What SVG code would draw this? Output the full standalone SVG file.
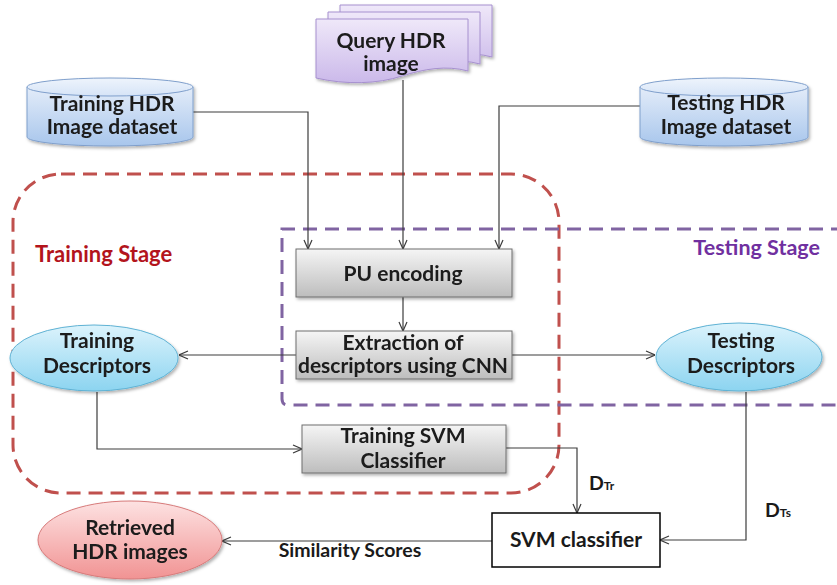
<svg xmlns="http://www.w3.org/2000/svg" width="837" height="585" viewBox="0 0 837 585">
<defs>
<style>
.t{font-family:Lato,"Open Sans","Liberation Sans",sans-serif;font-weight:bold;font-size:21px;fill:#1a1a1a;text-anchor:middle}
.lbl{font-family:Lato,"Open Sans","Liberation Sans",sans-serif;font-weight:bold;font-size:19.5px;fill:#1a1a1a}
.sub{font-size:12px}
.conn{fill:none;stroke:#3c3c3c;stroke-width:1.2}
.arr{marker-end:url(#arrow)}
.gbox{fill:url(#gGray);stroke:#6e6e6e;stroke-width:1}
.redStage{fill:none;stroke:#c0504d;stroke-width:3;stroke-dasharray:14 8}
.purStage{fill:none;stroke:#8064a2;stroke-width:3;stroke-dasharray:14 8}
.sh{filter:url(#shadow)}
</style>
<linearGradient id="gBlue" x1="0" y1="0" x2="0" y2="1"><stop offset="0" stop-color="#e3ecf9"/><stop offset="1" stop-color="#a8c6ec"/></linearGradient>
<linearGradient id="gBlueTop" x1="0" y1="0" x2="0" y2="1"><stop offset="0" stop-color="#eef4fc"/><stop offset="1" stop-color="#d6e4f7"/></linearGradient>
<linearGradient id="gLav" x1="0" y1="0" x2="0" y2="1"><stop offset="0" stop-color="#efe8f9"/><stop offset="1" stop-color="#cbb9ea"/></linearGradient>
<linearGradient id="gGray" x1="0" y1="0" x2="0" y2="1"><stop offset="0" stop-color="#f5f5f5"/><stop offset="1" stop-color="#bdbdbd"/></linearGradient>
<linearGradient id="gCyan" x1="0" y1="0" x2="0" y2="1"><stop offset="0" stop-color="#dcf3fc"/><stop offset="1" stop-color="#8cd4f0"/></linearGradient>
<linearGradient id="gPink" x1="0" y1="0" x2="0" y2="1"><stop offset="0" stop-color="#fde2e2"/><stop offset="1" stop-color="#f19393"/></linearGradient>
<filter id="shadow" x="-10%" y="-10%" width="125%" height="130%"><feDropShadow dx="1.5" dy="2" stdDeviation="1.5" flood-color="#000" flood-opacity="0.3"/></filter>
<marker id="arrow" markerUnits="userSpaceOnUse" viewBox="0 0 10 10" refX="10" refY="5" markerWidth="10" markerHeight="10" orient="auto"><path d="M1,1 L10,5 L1,9" fill="none" stroke="#3c3c3c" stroke-width="1.2"/></marker>
<path id="doc" d="M316,19 H468 V71 C446,65 424,69 402,76 C378,84 346,85 316,78 Z"/>
</defs>
<rect width="837" height="585" fill="#fff"/>

<g id="stages">
<rect class="redStage" x="13" y="174" width="546" height="319" rx="48" ry="48"/>
<path class="purStage" d="M845,229 H282 V399 Q282,405 288,405 H845"/>
<text x="35" y="262" style="font-family:Lato,'Open Sans',sans-serif;font-weight:bold;font-size:22px;fill:#b3141c">Training Stage</text>
<text x="820" y="255" text-anchor="end" style="font-family:Lato,'Open Sans',sans-serif;font-weight:bold;font-size:21.5px;fill:#7030a0">Testing Stage</text>
</g>

<g id="connectors">
<path class="conn arr" d="M193,112 H308 V249"/>
<path class="conn arr" d="M403,80 V249"/>
<path class="conn arr" d="M640,106 H499 V249"/>
<path class="conn arr" d="M403,297 V331"/>
<path class="conn arr" d="M296,355 H179"/>
<path class="conn arr" d="M512,355 H655"/>
<path class="conn arr" d="M97,392 V449 H302"/>
<path class="conn arr" d="M506,448 H577 V513"/>
<path class="conn arr" d="M746,392 V540 H660"/>
<path class="conn arr" d="M492,541 H222"/>
<text class="lbl" x="350" y="557" text-anchor="middle">Similarity Scores</text>
<text class="lbl" x="589" y="490">D<tspan class="sub">Tr</tspan></text>
<text class="lbl" x="765" y="517">D<tspan class="sub">Ts</tspan></text>
</g>

<g id="node-query" class="sh">
<use href="#doc" transform="translate(24,-14)" fill="url(#gLav)" stroke="#a690cf" stroke-width="1"/>
<use href="#doc" transform="translate(12,-7)" fill="url(#gLav)" stroke="#a690cf" stroke-width="1"/>
<use href="#doc" fill="url(#gLav)" stroke="#a690cf" stroke-width="1"/>
<text class="t" x="391" y="48">Query HDR</text>
<text class="t" x="391" y="71">image</text>
</g>

<g id="node-training-dataset" class="sh">
<path d="M27,87 V137 A83,9 0 0 0 193,137 V87 Z" fill="url(#gBlue)" stroke="#7f9fcc" stroke-width="1"/>
<ellipse cx="110" cy="87" rx="83" ry="9" fill="url(#gBlueTop)" stroke="#7f9fcc" stroke-width="1"/>
<text class="t" x="112" y="111">Training HDR</text>
<text class="t" x="112" y="134">Image dataset</text>
</g>

<g id="node-testing-dataset" class="sh">
<path d="M640,87 V137 A84,9 0 0 0 808,137 V87 Z" fill="url(#gBlue)" stroke="#7f9fcc" stroke-width="1"/>
<ellipse cx="724" cy="87" rx="84" ry="9" fill="url(#gBlueTop)" stroke="#7f9fcc" stroke-width="1"/>
<text class="t" x="726" y="110">Testing HDR</text>
<text class="t" x="726" y="134">Image dataset</text>
</g>

<g id="node-pu" class="sh">
<rect class="gbox" x="296" y="249" width="216" height="48"/>
<text class="t" x="403" y="281">PU encoding</text>
</g>

<g id="node-extraction" class="sh">
<rect class="gbox" x="296" y="331" width="216" height="48"/>
<text class="t" x="403" y="350">Extraction of</text>
<text class="t" x="403" y="373">descriptors using CNN</text>
</g>

<g id="node-training-descriptors" class="sh">
<ellipse cx="94" cy="358" rx="84" ry="33" fill="url(#gCyan)" stroke="#5fb2d4" stroke-width="1"/>
<text class="t" x="97" y="348">Training</text>
<text class="t" x="97" y="373">Descriptors</text>
</g>

<g id="node-testing-descriptors" class="sh">
<ellipse cx="739" cy="357" rx="83" ry="34" fill="url(#gCyan)" stroke="#5fb2d4" stroke-width="1"/>
<text class="t" x="741" y="348">Testing</text>
<text class="t" x="741" y="373">Descriptors</text>
</g>

<g id="node-training-svm" class="sh">
<rect class="gbox" x="302" y="425" width="204" height="48"/>
<text class="t" x="403" y="443">Training SVM</text>
<text class="t" x="403" y="468">Classifier</text>
</g>

<g id="node-svm">
<rect x="492" y="513" width="168" height="54" fill="#fff" stroke="#000" stroke-width="1.5"/>
<text class="t" x="576" y="547">SVM classifier</text>
</g>

<g id="node-retrieved" class="sh">
<ellipse cx="130" cy="540" rx="92" ry="39" fill="url(#gPink)" stroke="#d77a7a" stroke-width="1"/>
<text class="t" x="130" y="535">Retrieved</text>
<text class="t" x="130" y="559">HDR images</text>
</g>
</svg>
